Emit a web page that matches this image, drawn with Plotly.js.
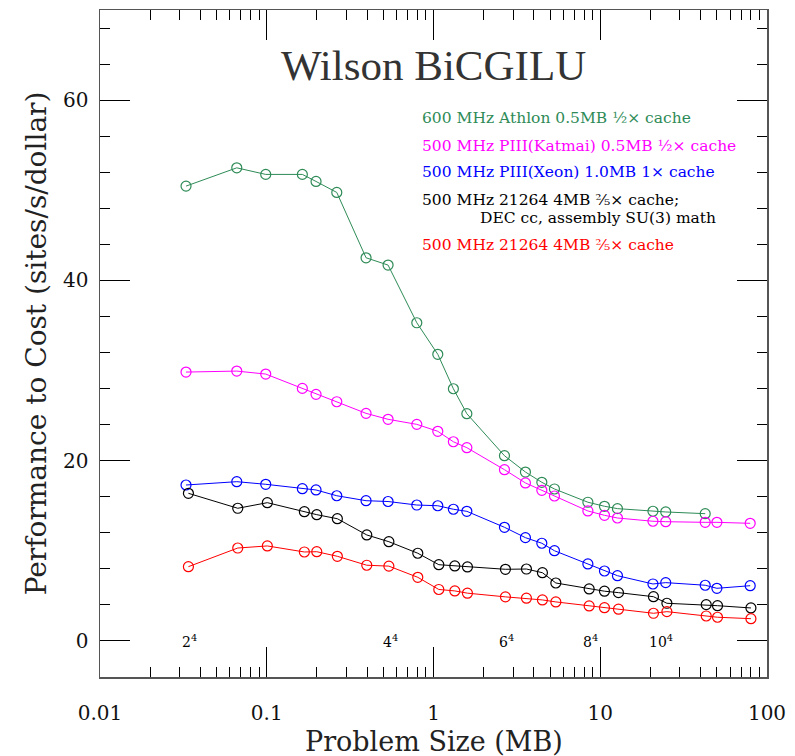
<!DOCTYPE html>
<html>
<head>
<meta charset="utf-8">
<script src="https://cdn.plot.ly/plotly-3.0.1.min.js"></script>
<style>html,body{margin:0;padding:0;background:#fff;}#chart{width:795px;height:756px;}</style>
</head>
<body>
<div id="chart"></div>
<script>
// Problem sizes (MB)
const xAthlon = [0.0328,0.0661,0.0986,0.1635,0.1975,0.263,0.394,0.534,0.794,1.061,1.316,1.585,2.664,3.559,4.463,5.313,8.43,10.6,12.68,20.7,24.7,42.6];
const yAthlon = [50.46,52.49,51.76,51.76,50.98,49.76,42.51,41.70,35.30,31.80,27.98,25.21,20.55,18.74,17.60,16.86,15.39,14.94,14.68,14.39,14.31,14.12];

const xPIII = [0.0328,0.0661,0.0986,0.1635,0.1975,0.263,0.394,0.534,0.794,1.061,1.316,1.585,2.664,3.559,4.463,5.313,8.43,10.6,12.68,20.7,24.7,42.6,50.07,79.3];
const yKatmai = [29.83,29.94,29.61,28.02,27.36,26.54,25.25,24.59,24.03,23.26,22.10,21.44,19.00,17.53,16.71,16.08,14.42,13.94,13.64,13.28,13.23,13.16,13.16,13.05];
const yXeon = [17.30,17.67,17.38,16.89,16.75,16.11,15.56,15.47,15.08,15.00,14.61,14.38,12.61,11.46,10.84,10.01,8.54,7.76,7.24,6.32,6.47,6.18,5.84,6.13];

const xAlpha = [0.0339,0.0670,0.1008,0.1681,0.1995,0.2651,0.398,0.540,0.805,1.076,1.342,1.598,2.70,3.609,4.50,5.416,8.58,10.6,12.86,20.85,25.1,43.2,50.5,80.1];
const yAlphaAsm = [16.38,14.72,15.34,14.34,14.01,13.56,11.76,11.01,9.73,8.46,8.32,8.21,7.95,7.98,7.57,6.43,5.77,5.52,5.36,4.91,4.18,4.03,3.91,3.66];
const yAlpha = [8.24,10.31,10.54,9.87,9.90,9.39,8.40,8.30,7.06,5.71,5.55,5.30,4.89,4.74,4.55,4.33,3.88,3.69,3.52,3.07,3.25,2.77,2.63,2.47];

const latticeSizes = [0.0345, 0.55, 2.75, 8.7, 23.0];
const latticeLabels = ['2<sup>4</sup>','4<sup>4</sup>','6<sup>4</sup>','8<sup>4</sup>','10<sup>4</sup>'];

const seriesNames = [
  '600 MHz Athlon 0.5MB ½× cache',
  '500 MHz PIII(Katmai) 0.5MB ½× cache',
  '500 MHz PIII(Xeon) 1.0MB 1× cache',
  '500 MHz 21264 4MB ⅖× cache;',
  '500 MHz 21264 4MB ⅖× cache'
];
const colors = ['#2e8b57','#ff00ff','#0000ff','#000000','#ff0000'];

const serif = 'DejaVu Serif, serif';

function tr(x, y, c, name){
  return {x:x, y:y, type:'scatter', mode:'lines+markers', name:name,
    line:{color:c, width:1},
    marker:{symbol:'circle-open', size:10, color:c, line:{width:1.2, color:c}},
    showlegend:false, hoverinfo:'x+y'};
}

const data = [
  tr(xAthlon, yAthlon, colors[0], seriesNames[0]),
  tr(xPIII, yKatmai, colors[1], seriesNames[1]),
  tr(xPIII, yXeon, colors[2], seriesNames[2]),
  tr(xAlpha, yAlphaAsm, colors[3], seriesNames[3]),
  tr(xAlpha, yAlpha, colors[4], seriesNames[4])
];

const minorLog = [];
[0.01,0.1,1,10].forEach(d=>{for(let k=2;k<=9;k++) minorLog.push(d*k);});

const legendY = [118,146,172,200,245];
const annotations = [];
seriesNames.forEach((n,i)=>{
  annotations.push({xref:'paper', yref:'paper', x:(420-100)/667, y:(677-legendY[i])/667,
    xanchor:'left', yanchor:'middle', showarrow:false, text:n,
    font:{family:serif, size:15.5, color:colors[i]}});
});
annotations.push({xref:'paper', yref:'paper', x:(478-100)/667, y:(677-218)/667,
  xanchor:'left', yanchor:'middle', showarrow:false, text:'DEC cc, assembly SU(3) math',
  font:{family:serif, size:15.5, color:'#000'}});
latticeSizes.forEach((s,i)=>{
  annotations.push({xref:'x', yref:'y', x:Math.log10(s), y:0, xanchor:'center', yanchor:'middle',
    showarrow:false, text:latticeLabels[i], font:{family:serif, size:14, color:'#000'}});
});
annotations.push({xref:'paper', yref:'paper', x:0.5, y:(677-66)/667, xanchor:'center', yanchor:'middle',
  showarrow:false, text:'Wilson BiCGILU', font:{family:'Liberation Serif, serif', size:43, color:'#333'}});
annotations.push({xref:'paper', yref:'paper', x:0.5, y:(677-741)/667, xanchor:'center', yanchor:'middle',
  showarrow:false, text:'Problem Size (MB)', font:{family:serif, size:27, color:'#222'}});

const layout = {
  width:795, height:756,
  margin:{l:100, r:28, t:10, b:79},
  paper_bgcolor:'#fff', plot_bgcolor:'#fff',
  showlegend:false,
  xaxis:{type:'log', range:[-2,2], tickvals:[0.01,0.1,1,10,100], ticktext:['0.01','0.1','1','10','100'],
    ticks:'inside', ticklen:30, tickwidth:1, tickcolor:'#000',
    minor:{tickmode:'array', tickvals:minorLog, ticks:'inside', ticklen:10, tickwidth:1, tickcolor:'#000', showgrid:false},
    showline:true, linecolor:'#555', linewidth:1.5, mirror:'allticks', showgrid:false, zeroline:false,
    tickfont:{family:serif, size:20, color:'#111'}, ticklabelstandoff:17},
  yaxis:{range:[-4,70], tickvals:[0,20,40,60], ticks:'inside', ticklen:30, tickwidth:1, tickcolor:'#000',
    minor:{dtick:4, tick0:0, ticks:'inside', ticklen:10, tickwidth:1, tickcolor:'#000', showgrid:false},
    showline:true, linecolor:'#555', linewidth:1.5, mirror:'allticks', showgrid:false, zeroline:false,
    tickfont:{family:serif, size:20, color:'#111'}, ticklabelstandoff:6,
    title:{text:'Performance to Cost (sites/s/dollar)', font:{family:serif, size:28, color:'#222'}, standoff:8}},
  annotations:annotations
};

Plotly.newPlot('chart', data, layout, {staticPlot:true});
</script>
</body>
</html>
